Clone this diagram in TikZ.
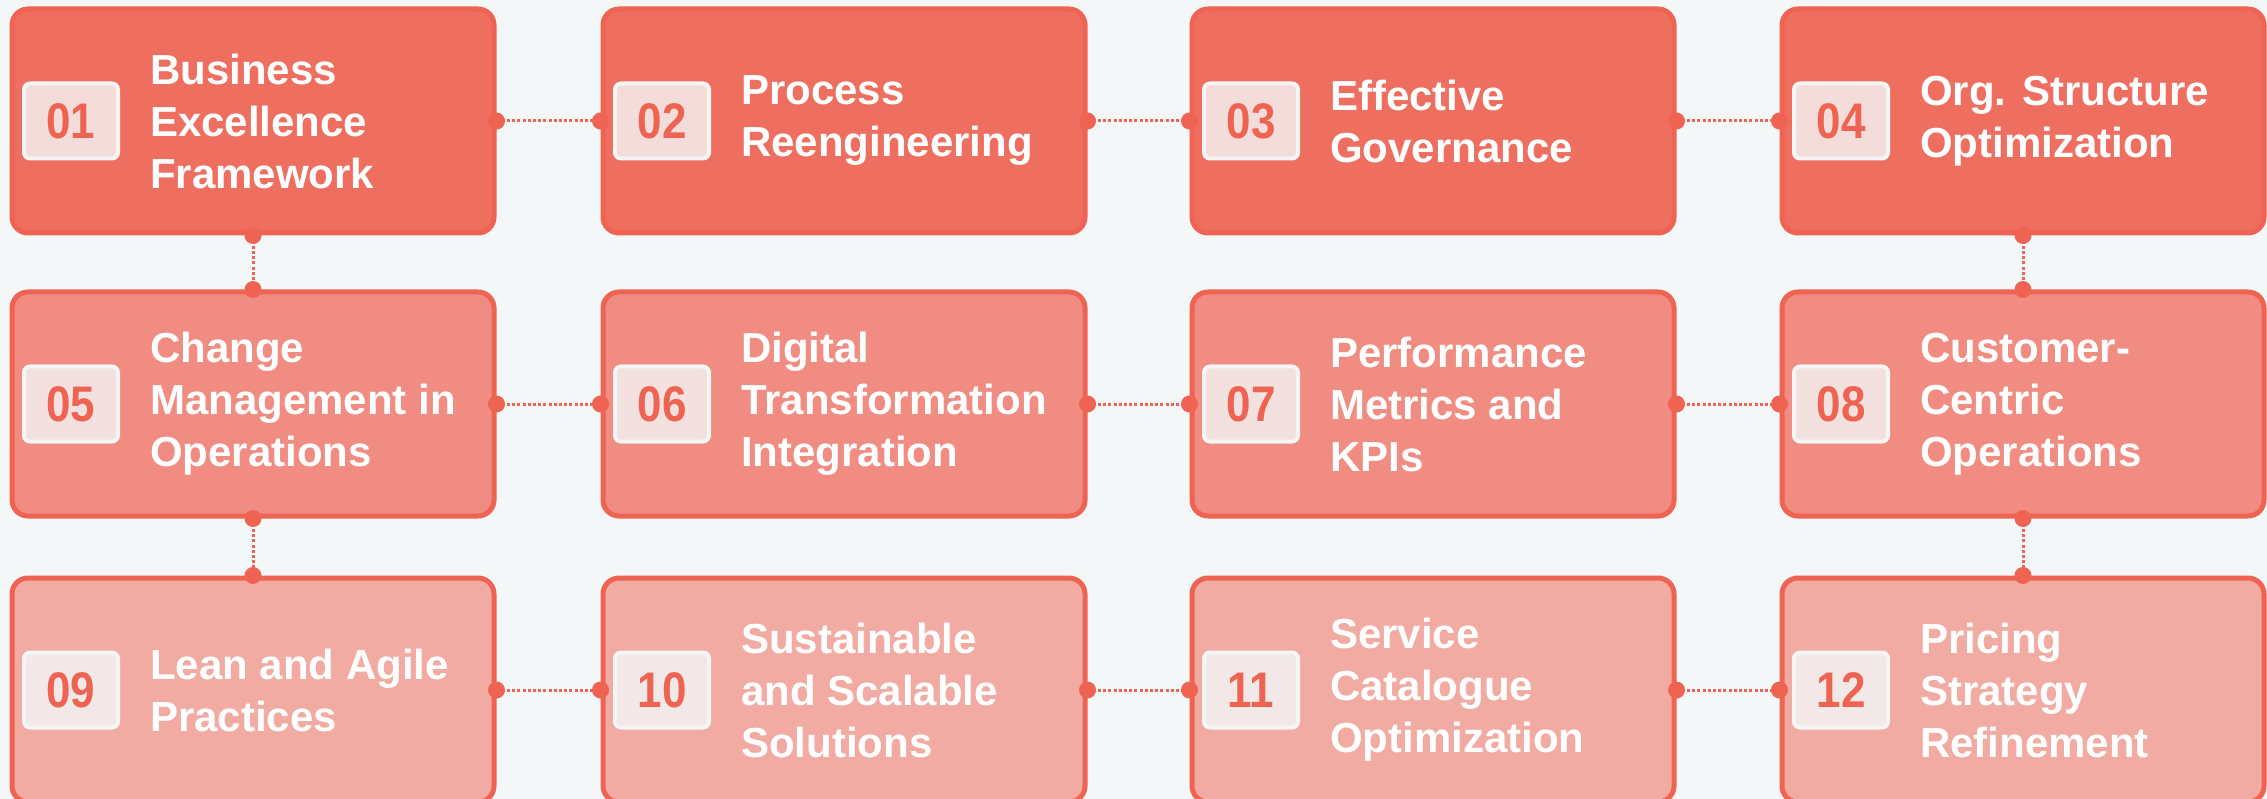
\documentclass[tikz,border=0pt]{standalone}
\usepackage{fontspec}
\setmainfont{Liberation Sans}
\definecolor{bgc}{HTML}{F3F7F8}
\definecolor{edge}{HTML}{EE6352}
\definecolor{fillA}{HTML}{EE6F5F}
\definecolor{fillB}{HTML}{F08C81}
\definecolor{fillC}{HTML}{F2ABA3}
\definecolor{numA}{HTML}{F4DCDA}
\definecolor{numB}{HTML}{F3E1DF}
\definecolor{numC}{HTML}{F2E8E7}
\definecolor{numedge}{HTML}{F5F5F5}
\tikzset{
  boxs/.style={draw=edge, line width=5pt, rounded corners=16pt, minimum width=482pt, minimum height=224pt, inner sep=0pt},
  numbox/.style={draw=numedge, line width=4pt, rounded corners=6pt, minimum width=94pt, minimum height=75pt, inner sep=0pt, text=edge, font=\bfseries\fontsize{50}{50}\selectfont},
  txt/.style={anchor=west, align=left, inner sep=0pt, text=white, font=\bfseries\fontsize{42}{52}\selectfont},
  conn/.style={draw=edge, line width=3pt, dash pattern=on 3pt off 2.2pt},
  cdot/.style={fill=edge}
}
\newcommand\mybox[7]{%
  \node[boxs, fill=#4] (#1) at (#2,#3) {};
  \node[numbox, fill=#5] (#1n) at (#2-182,#3) {\scalebox{0.88}[1]{#6}};
  \node[txt] (#1t) at (#2-103,#3) {#7};
}
\newcommand\mylink[2]{%
  \draw[conn] (#1) -- (#2);
  \fill[cdot] (#1) circle (8.5pt);
  \fill[cdot] (#2) circle (8.5pt);
}
\begin{document}
\begin{tikzpicture}[x=1pt,y=-1pt]
\fill[bgc] (0,0) rectangle (2267,799);
\useasboundingbox (0,0) rectangle (2267,799);
\mybox{b1}{253}{121}{fillA}{numA}{01}{Business\\Excellence\\Framework}
\mybox{b2}{844}{121}{fillA}{numA}{02}{Process\\Reengineering}
\mybox{b3}{1433}{121}{fillA}{numA}{03}{Effective\\Governance}
\mybox{b4}{2023}{121}{fillA}{numA}{04}{Org. Structure\\Optimization}
\mybox{b5}{253}{404}{fillB}{numB}{05}{Change\\Management in\\Operations}
\mybox{b6}{844}{404}{fillB}{numB}{06}{Digital\\Transformation\\Integration}
\mybox{b7}{1433}{404}{fillB}{numB}{07}{Performance\\Metrics and\\KPIs}
\mybox{b8}{2023}{404}{fillB}{numB}{08}{Customer-\\Centric\\Operations}
\mybox{b9}{253}{690}{fillC}{numC}{09}{Lean and Agile\\Practices}
\mybox{b10}{844}{690}{fillC}{numC}{10}{Sustainable\\and Scalable\\Solutions}
\mybox{b11}{1433}{690}{fillC}{numC}{11}{Service\\Catalogue\\Optimization}
\mybox{b12}{2023}{690}{fillC}{numC}{12}{Pricing\\Strategy\\Refinement}
\mylink{b1.east}{b2.west}
\mylink{b2.east}{b3.west}
\mylink{b3.east}{b4.west}
\mylink{b5.east}{b6.west}
\mylink{b6.east}{b7.west}
\mylink{b7.east}{b8.west}
\mylink{b9.east}{b10.west}
\mylink{b10.east}{b11.west}
\mylink{b11.east}{b12.west}
\mylink{b1.south}{b5.north}
\mylink{b5.south}{b9.north}
\mylink{b4.south}{b8.north}
\mylink{b8.south}{b12.north}
\end{tikzpicture}
\end{document}
